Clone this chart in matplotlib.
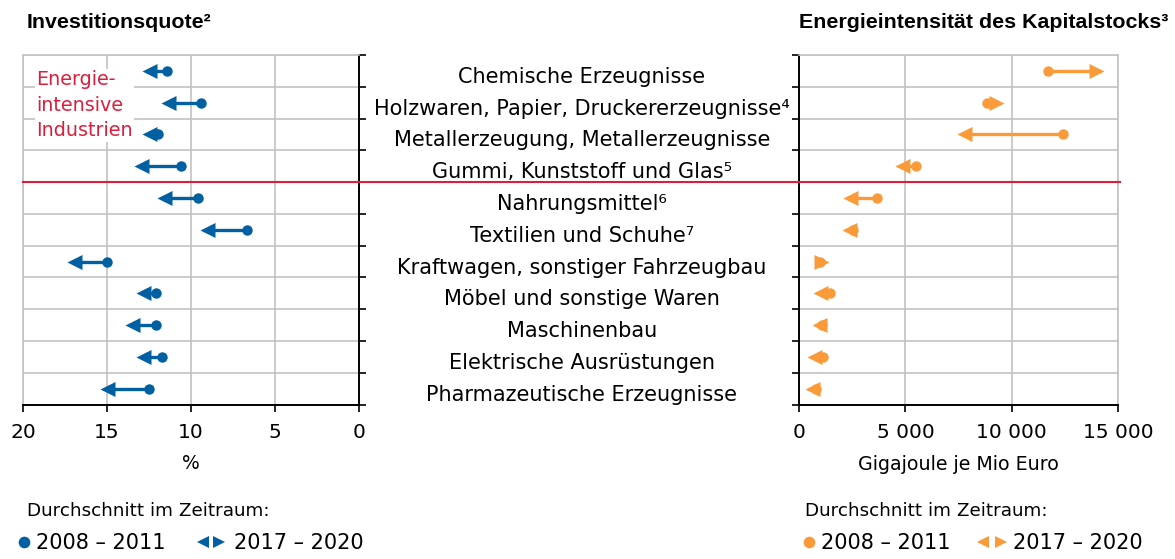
import numpy as np
import matplotlib
matplotlib.use('Agg')
import matplotlib.pyplot as plt
import matplotlib.transforms as mtransforms
from matplotlib.lines import Line2D
from matplotlib.path import Path
from matplotlib.legend_handler import HandlerTuple

plt.rcParams['font.family'] = ['DejaVu Sans']

categories = ['Chemische Erzeugnisse',
              'Holzwaren, Papier, Druckererzeugnisse⁴',
              'Metallerzeugung, Metallerzeugnisse',
              'Gummi, Kunststoff und Glas⁵',
              'Nahrungsmittel⁶',
              'Textilien und Schuhe⁷',
              'Kraftwagen, sonstiger Fahrzeugbau',
              'Möbel und sonstige Waren',
              'Maschinenbau',
              'Elektrische Ausrüstungen',
              'Pharmazeutische Erzeugnisse']

# Investitionsquote in %
invest_2008_2011 = [11.4, 9.4, 11.95, 10.6, 9.6, 6.65, 15.0, 12.1, 12.1, 11.7, 12.5]
invest_2017_2020 = [12.9, 11.8, 12.9, 13.4, 12.05, 9.45, 17.4, 13.3, 13.95, 13.3, 15.4]

# Energieintensitaet in Gigajoule je Mio Euro
energy_2008_2011 = [11700, 8850, 12400, 5500, 3680, 2550, 1000, 1450, 1100, 1110, 800]
energy_2017_2020 = [14330, 9630, 7400, 4510, 2050, 2000, 1420, 670, 600, 360, 280]

invest_ticks = [20, 15, 10, 5, 0]
energy_ticks = [0, 5000, 10000, 15000]
n_energy_intensive = 4

blue = '#0060A2'
orange = '#FA9A38'
red = '#DC1E3C'
grid_col = '#c2c2c2'

W, H = 1175, 559
fig = plt.figure(figsize=(W / 100, H / 100), dpi=100)

ax_l = fig.add_axes([23 / W, 1 - 404.5 / H, 336 / W, 349.5 / H])
ax_r = fig.add_axes([799 / W, 1 - 404.5 / H, 319.3 / W, 349.5 / H])

HEAD_PX = 15
head_left = Path([(0, 0), (1, 0.5), (1, -0.5), (0, 0)])
head_right = Path([(0, 0), (-1, 0.5), (-1, -0.5), (0, 0)])


def setup(ax, xlim, ticks, side):
    ax.set_xlim(*xlim)
    ax.set_ylim(len(categories) - 0.5, -0.5)
    ax.set_xticks(ticks)
    ax.set_yticks(np.arange(-0.5, len(categories), 1))
    ax.grid(True, color=grid_col, lw=1.2)
    ax.set_axisbelow(True)
    for s in ax.spines.values():
        s.set_color(grid_col)
        s.set_linewidth(1.2)
    ax.spines['bottom'].set_color('black')
    ax.spines['bottom'].set_linewidth(1.4)
    ax.spines[side].set_color('black')
    ax.spines[side].set_linewidth(1.4)
    ax.tick_params(axis='x', direction='out', length=5, width=1.2,
                   labelsize=14.5, pad=8)
    ax.tick_params(axis='y', direction='out', length=5, width=1.2,
                   left=(side == 'left'), right=(side == 'right'),
                   labelleft=False, labelright=False)


def draw_arrows(ax, start, end, color):
    px_per_unit = ax.get_window_extent().width / abs(np.diff(ax.get_xlim())[0])
    cut = 0.5 * HEAD_PX / px_per_unit
    y = np.arange(len(start))
    for yi, s, e in zip(y, start, end):
        xs, xe = ax.transData.transform([(s, yi), (e, yi)])[:, 0]
        if abs(e - s) > cut:
            ax.plot([s, e - np.sign(e - s) * cut], [yi, yi], color=color,
                    lw=2.4, solid_capstyle='butt', zorder=3)
        marker = head_right if xe > xs else head_left
        ax.plot([e], [yi], marker=marker, ls='', color=color,
                ms=HEAD_PX * 2 * 0.72, mew=0, zorder=4)
    ax.plot(start, y, 'o', color=color, ms=7.5, mew=0, zorder=5)


setup(ax_l, (20, 0), invest_ticks, 'right')
setup(ax_r, (0, 15000), energy_ticks, 'left')
ax_r.set_xticklabels([f'{t:,.0f}'.replace(',', ' ') for t in energy_ticks])

draw_arrows(ax_l, invest_2008_2011, invest_2017_2020, blue)
draw_arrows(ax_r, energy_2008_2011, energy_2017_2020, orange)

ax_l.set_xlabel('%', fontsize=13.5, labelpad=9)
ax_r.set_xlabel('Gigajoule je Mio Euro', fontsize=13.7, labelpad=10)

ax_l.text((36 - 23) / 336, (404.5 - 70) / 349.5, 'Energie-\nintensive\nIndustrien',
          transform=ax_l.transAxes, color=red, fontsize=13.8, va='top', ha='left',
          linespacing=1.44, zorder=6,
          bbox=dict(facecolor='white', edgecolor='none', pad=1))

# category labels in the middle
row_trans = mtransforms.blended_transform_factory(fig.transFigure, ax_l.transData)
label_trans = mtransforms.offset_copy(row_trans, fig=fig, y=-12, units='dots')
for i, cat in enumerate(categories):
    fig.text(582 / W, i, cat, transform=label_trans, ha='center', va='baseline',
             fontsize=15)

# separator for energy intensive industries
fig.add_artist(Line2D([23 / W, 1120 / W], [n_energy_intensive - 0.5] * 2,
                      transform=row_trans, color=red, lw=1.5, zorder=3))

# titles
fig.text(27 / W, 1 - 28.5 / H, 'Investitionsquote²', fontsize=15.4, fontweight='bold',
         family=['Liberation Sans', 'DejaVu Sans'], va='baseline')
fig.text(1168 / W, 1 - 28.5 / H, 'Energieintensität des Kapitalstocks³', fontsize=15.4,
         fontweight='bold', family=['Liberation Sans', 'DejaVu Sans'],
         va='baseline', ha='right')

# legends
for x_title, color, a_x, a_pad, b_x, b_len, b_pad in [
        (27, blue, 18, 0.3, 194.25, 1.584, 0.3),
        (805, orange, 803, 0.31, 974, 1.73, 0.15)]:
    fig.text(x_title / W, 1 - 516.5 / H, 'Durchschnitt im Zeitraum:', fontsize=13.2,
             va='baseline')
    dot = Line2D([], [], marker='o', ls='', color=color, ms=8.4, mew=0)
    tri = (Line2D([], [], marker='<', ls='', color=color, ms=8.3, mew=0),
           Line2D([], [], marker='>', ls='', color=color, ms=8.3, mew=0))
    fig.legend([dot], ['2008 – 2011'], loc='center left',
               bbox_to_anchor=(a_x / W, 1 - 543 / H), frameon=False, fontsize=15,
               borderpad=0, borderaxespad=0, handlelength=12 / 20.83,
               handletextpad=a_pad)
    fig.legend([tri], ['2017 – 2020'], loc='center left',
               bbox_to_anchor=(b_x / W, 1 - 543 / H), frameon=False, fontsize=15,
               borderpad=0, borderaxespad=0, handlelength=b_len,
               handletextpad=b_pad,
               handler_map={tuple: HandlerTuple(ndivide=None, pad=0)})

fig.savefig('out.png', dpi=100)
